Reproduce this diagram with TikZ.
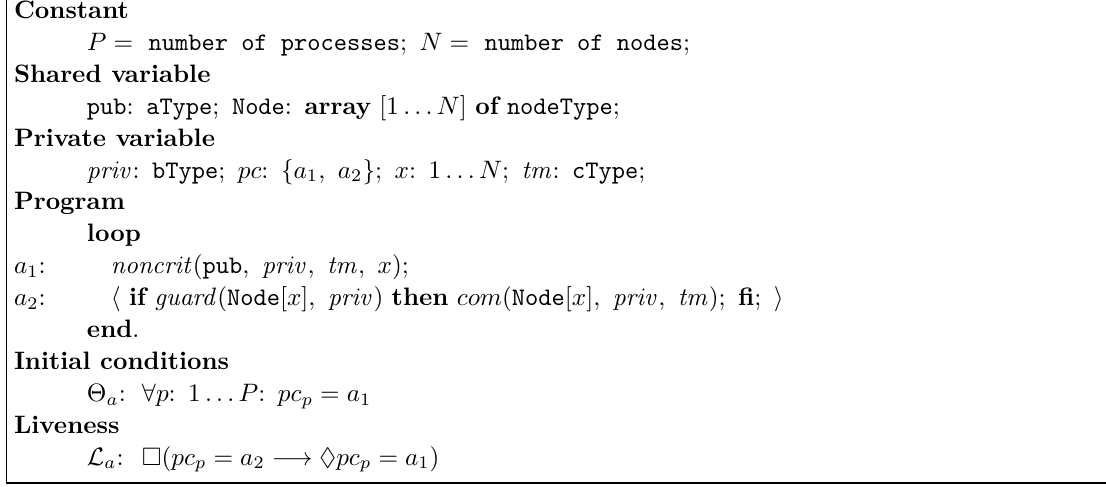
\documentclass[tikz,border=0pt]{standalone}
\usepackage{amsmath,amssymb}
\newcommand{\cln}{\mathpunct{:}}
\begin{document}
\begin{tikzpicture}[x=0.3968pt,y=-0.3968pt,
  ln/.style={anchor=base west,inner sep=0pt,outer sep=0pt},
  frame/.style={line width=0.5pt}]
\useasboundingbox (0,0) rectangle (1106,486);
\def\hx{14}\def\ix{87}\def\jx{111}\def\kx{142}
% lines: baseline y = 18.5 + 31.9*i
\node[ln] (l0)  at (\hx,18.5)  {\textbf{Constant}};
\node[ln] (l1)  at (\ix,50.4)  {$P = \ \texttt{number of processes};\ N = \ \texttt{number of nodes};$};
\node[ln] (l2)  at (\hx,82.3)  {\textbf{Shared variable}};
\node[ln] (l3)  at (\ix,114.2) {$\texttt{pub}\cln\ \texttt{aType};\ \texttt{Node}\cln\ \textbf{array}\ [1\ldots N]\ \textbf{of}\ \texttt{nodeType};$};
\node[ln] (l4)  at (\hx,146.1) {\textbf{Private variable}};
\node[ln] (l5)  at (\ix,178.0) {$\mathit{priv}\cln\ \texttt{bType};\ pc\cln\ \{a_1,\ a_2\};\ x\cln\ 1\ldots N;\ \mathit{tm}\cln\ \texttt{cType};$};
\node[ln] (l6)  at (\hx,209.9) {\textbf{Program}};
\node[ln] (l7)  at (\ix,241.8) {\textbf{loop}};
\node[ln] (l8a) at (\hx,273.7) {$a_1$:};
\node[ln] (l8)  at (\jx,273.7) {$\mathit{noncrit}(\texttt{pub},\ \mathit{priv},\ \mathit{tm},\ x);$};
\node[ln] (l9a) at (\hx,305.6) {$a_2$:};
\node[ln] (l9)  at (\jx,305.6) {$\langle\ \textbf{if}\ \mathit{guard}(\texttt{Node}[x],\ \mathit{priv})\ \textbf{then}\ com(\texttt{Node}[x],\ \mathit{priv},\ \mathit{tm});\ \textbf{fi};\ \rangle$};
\node[ln] (l10) at (\ix,337.5) {\textbf{end}.};
\node[ln] (l11) at (\hx,369.4) {\textbf{Initial conditions}};
\node[ln] (l12a) at (\ix,401.3) {$\Theta_a$:};
\node[ln] (l12) at (\kx,401.3) {$\forall p\cln\ 1\ldots P\cln\ pc_p=a_1$};
\node[ln] (l13) at (\hx,433.2) {\textbf{Liveness}};
\node[ln] (l14a) at (\ix,465.1) {$\mathcal{L}_a$:};
\node[ln] (l14) at (\kx,465.1) {$\Box(pc_p=a_2\longrightarrow\Diamond pc_p=a_1)$};
\draw[frame] (6.5,0) |- (1106,483);
\end{tikzpicture}
\end{document}
